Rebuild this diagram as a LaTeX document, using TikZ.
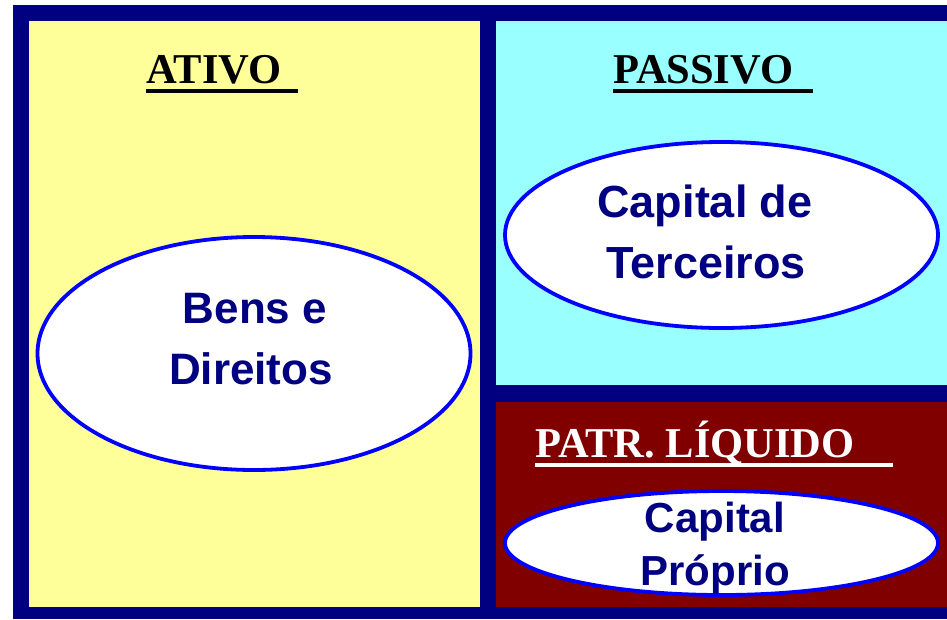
\documentclass[tikz,border=0pt]{standalone}
\usepackage{fontspec}
\setmainfont{Liberation Serif}
\newfontfamily\arialf{Liberation Sans}
\usetikzlibrary{shapes.geometric,calc}
\definecolor{navy}{HTML}{000080}
\definecolor{paleyellow}{HTML}{FFFF99}
\definecolor{palecyan}{HTML}{99FFFF}
\definecolor{darkred}{HTML}{800000}
\definecolor{ringblue}{HTML}{0000FF}
\tikzset{
  oval/.style={ellipse, draw=ringblue, line width=3.8pt, fill=white, inner sep=0pt},
  heading/.style={font=\fontsize{42.5}{48}\selectfont\bfseries, inner sep=0pt, anchor=base west},
  label/.style={font=\arialf\fontsize{44}{52}\selectfont\bfseries, text=navy, inner sep=0pt, anchor=base},
  uline/.style={line width=4pt}
}
\begin{document}
\begin{tikzpicture}[x=1pt,y=-1pt]
\useasboundingbox (0,0) rectangle (947,619);
% frame and panels
\fill[navy] (13,5) rectangle (947,619);
\fill[paleyellow] (29,21) rectangle (480,607);
\fill[palecyan] (496,21) rectangle (947,385);
\fill[darkred] (496,402) rectangle (947,607);
% headings
\node[heading, text=black] (ativo) at (146,83) {ATIVO};
\draw[uline, black] ($(ativo.base west)+(0,8)$) -- +(152,0);
\node[heading, text=black] (passivo) at (613,83) {PASSIVO};
\draw[uline, black] ($(passivo.base west)+(0,8)$) -- +(200,0);
\node[heading, text=white] (pl) at (535,457) {PATR. LÍQUIDO};
\draw[uline, white] ($(pl.base west)+(0,8)$) -- +(358,0);
% ellipses
\node[oval, minimum width=433pt, minimum height=233pt] (bens) at (254,353.5) {};
\node[oval, minimum width=433pt, minimum height=186pt] (terc) at (721.5,235) {};
\node[oval, minimum width=433pt, minimum height=104pt] (prop) at (721.5,543) {};
% labels
\node[label] (b1) at (255,323) {Bens e};
\node[label] (b2) at (251,384) {Direitos};
\node[label, font=\arialf\fontsize{45}{52}\selectfont\bfseries] (t1) at (705,217) {Capital de};
\node[label, font=\arialf\fontsize{45}{52}\selectfont\bfseries] (t2) at (706,278) {Terceiros};
\node[label, font=\arialf\fontsize{42}{50}\selectfont\bfseries] (p1) at (715,532) {Capital};
\node[label, font=\arialf\fontsize{42}{50}\selectfont\bfseries] (p2) at (715,585) {Próprio};
\end{tikzpicture}
\end{document}
